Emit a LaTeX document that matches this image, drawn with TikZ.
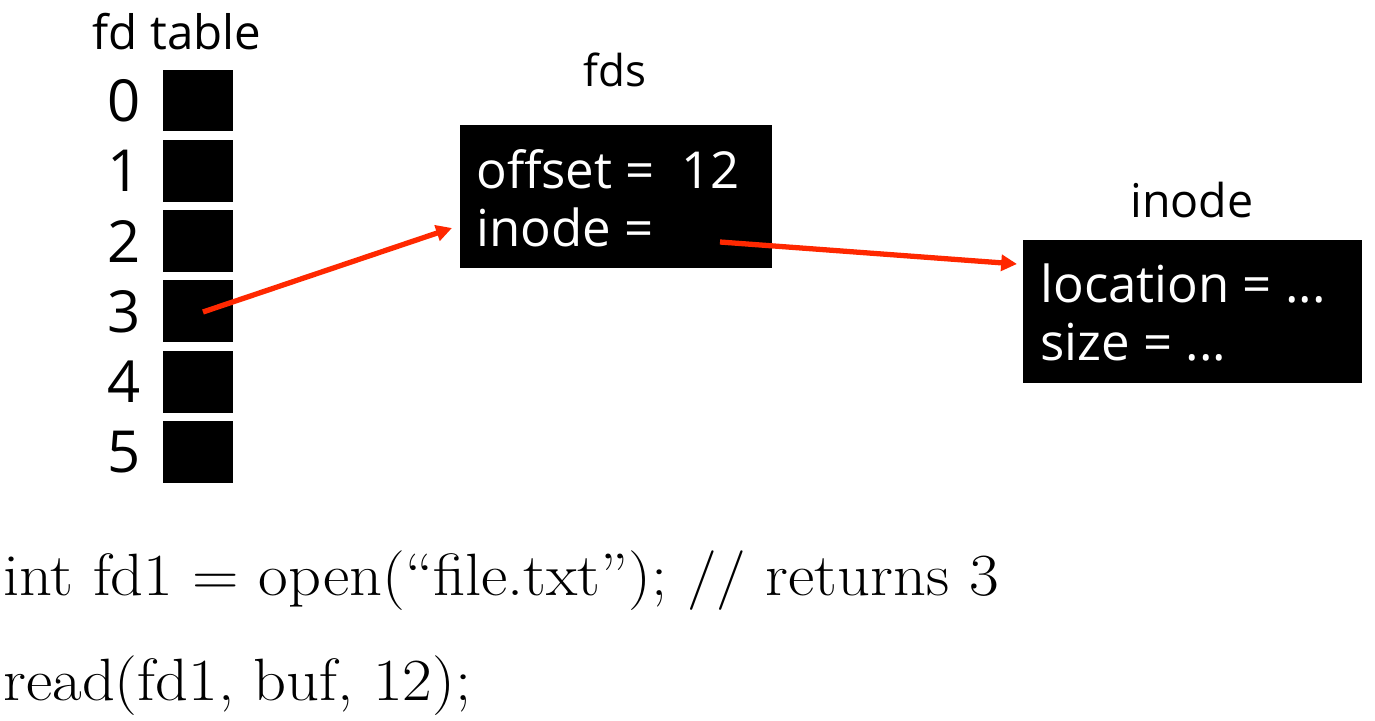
\documentclass[tikz,border=0pt]{standalone}
\usepackage{fontspec}
\setsansfont{Open Sans}
\usetikzlibrary{arrows.meta}
\definecolor{ptrred}{RGB}{255,40,0}
\tikzset{
	slot/.style={fill=black, inner sep=0, minimum width=1.4cm, minimum height=1.24cm},
	blackbox/.style={fill=black, inner sep=0},
	boxtext/.style={anchor=base west, text=white, inner sep=0, font=\sffamily\fontsize{29}{34}\selectfont},
	title/.style={font=\sffamily\fontsize{27}{32}\selectfont},
	ptr/.style={draw=ptrred, line width=3pt, -{Triangle[length=9pt, width=9pt]}},
	code/.style={anchor=base west, inner sep=0, xscale=1.08, transform shape, font=\fontsize{34}{40}\selectfont}
}
\begin{document}
\begin{tikzpicture}[x=0.02cm, y=-0.02cm]
	\useasboundingbox (0,0) rectangle (1375,720);
	%fd 表标题
	\node [title] (fdtitle) at (177,32) {fd table};
	%绘制 fd 表的六个格子并标注编号
	\foreach \i in {0,...,5} {
		\node [slot] (slot\i) at (198,100.5+70.3*\i) {};
		\node [font=\sffamily\fontsize{33}{40}\selectfont] (num\i) at (124,100.5+70.3*\i) {\i};
	}
	%fds 结构
	\node [title, font=\sffamily\fontsize{25}{30}\selectfont] (fdslabel) at (615,70) {fds};
	\node [blackbox, minimum width=6.24cm, minimum height=2.86cm] (fds) at (616,196.5) {};
	\node [boxtext] (offset) at (476,188) {offset = \ 12};
	\node [boxtext] (inodefield) at (476,246) {inode =};
	%inode 结构
	\node [title, font=\sffamily\fontsize{26.5}{31}\selectfont] (inodelabel) at (1192,200) {inode};
	\node [blackbox, minimum width=6.78cm, minimum height=2.86cm] (inode) at (1192.5,311.5) {};
	\node [boxtext] (location) at (1040,302) {location = ...};
	\node [boxtext] (size) at (1040,360) {size = ...};
	%指针
	\coordinate (slotptr) at (203,312);
	\coordinate (fdsin) at (452,228);
	\coordinate (inodeptr) at (720,242);
	\coordinate (inodein) at (1017,264);
	\draw [ptr] (slotptr) -- (fdsin);
	\draw [ptr] (inodeptr) -- (inodein);
	%代码
	\node [code] (line1) at (3,595) {int fd1 = open(“file.txt”); // returns 3};
	\node [code] (line2) at (3,700) {read(fd1, buf, 12);};
\end{tikzpicture}
\end{document}
